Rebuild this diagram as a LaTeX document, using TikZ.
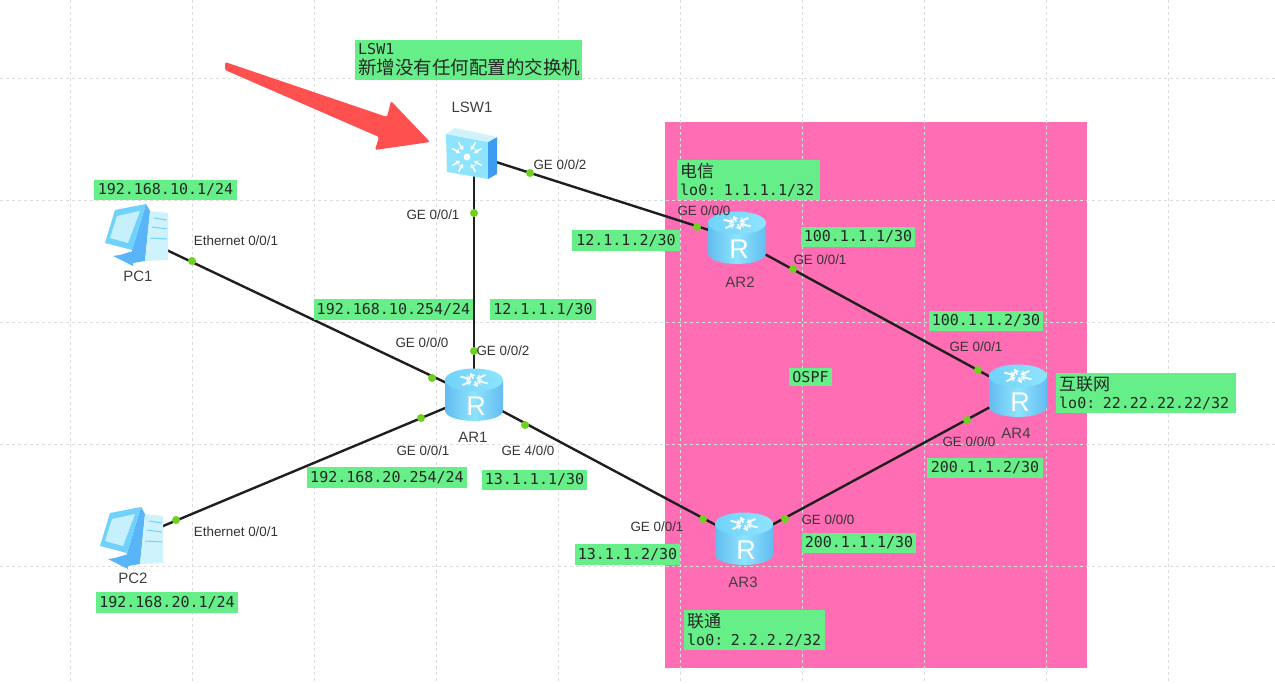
\documentclass[tikz,border=0pt]{standalone}
\usepackage{fontspec}
\setmainfont{Liberation Sans}
\setmonofont{DejaVu Sans Mono}
\newfontfamily\cjk{Noto Sans CJK SC}
\usetikzlibrary{arrows.meta}
\definecolor{zonepink}{HTML}{FF6EB4}
\definecolor{ipgreen}{HTML}{66EE88}
\definecolor{portgreen}{HTML}{70D020}
\definecolor{gridgray}{HTML}{DCDCDC}
\definecolor{arrowred}{HTML}{FF5050}
\definecolor{iconmid}{HTML}{8EE4FC}
\definecolor{iconedge}{HTML}{62BCF0}
\definecolor{icontop}{HTML}{70D2FA}
\definecolor{iconside}{HTML}{3F9BF0}
\definecolor{iconstrip}{HTML}{5AB4F8}
\definecolor{iconpale}{HTML}{CFF3FC}
\tikzset{
    link/.style={line width=2.4pt,draw=black!88},
    portdot/.style={circle,fill=portgreen,inner sep=0pt,minimum size=8pt},
    device/.style={inner sep=0pt,minimum width=40pt,minimum height=30pt},
    ipbox/.style={fill=ipgreen,inner sep=0pt,minimum height=20.5pt,text=black!85,font=\ttfamily\fontsize{15}{15}\selectfont},
    zonebox/.style={ipbox,align=left,anchor=north west,inner xsep=3pt,inner ysep=2pt,minimum height=39.5pt},
    devname/.style={inner sep=0pt,text=black!75,font=\fontsize{15}{15}\selectfont},
    portname/.style={inner sep=0pt,text=black!80,font=\fontsize{13.4}{14}\selectfont},
    router/.pic={
        \shade[left color=iconedge,right color=iconedge,middle color=iconmid] (-29,-16) -- (-29,14) .. controls (-29,28.6) and (29,28.6) .. (29,14) -- (29,-16) -- cycle;
        \shade[left color=icontop,right color=iconmid] (0,-16) ellipse [x radius=29,y radius=11.5];
        \foreach \a in {25,205,140,320} {
            \draw[white!95!cyan,line width=2pt,{Stealth[length=5pt,width=7pt]}-] (0,-16) +(\a:3 and 1.5) -- +(\a:15 and 8);
        }
        \foreach \a in {75,255} {
            \draw[white!95!cyan,line width=2pt,-{Stealth[length=5pt,width=7pt]}] (0,-16) +(\a:3 and 1.5) -- +(\a:14 and 7.5);
        }
        \node[inner sep=0pt,text=white,font=\fontsize{27}{27}\selectfont] (-R) at (2,10.5) {R};
    },
    lanswitch/.pic={
        \fill[iconmid] (-26,-21) -- (16,-13) -- (16,24) -- (-25,17) -- cycle;
        \fill[iconside] (16,-13) -- (25,-18) -- (25,19) -- (16,24) -- cycle;
        \fill[iconpale] (-26,-21) -- (-17,-27) -- (25,-18) -- (16,-13) -- cycle;
        \fill[white] (-5,2) circle (3.5);
        \foreach \a in {30,60,120,150,210,240,300,330} {
            \draw[white,line width=1.6pt,{Stealth[length=4pt,width=5.5pt]}-] (-5,2) +(\a:8) -- +(\a:17);
        }
    },
    desktop/.pic={
        \fill[iconstrip] (-17,19) -- (-4,15) -- (-4,30) -- (-24,20) -- cycle;
        \fill[iconstrip] (9,-32) -- (13,-25) -- (8,25) -- (-4,27) -- (-5,14) -- cycle;
        \fill[iconpale] (13,-25) -- (31,-23) -- (31,24) -- (8,25) -- cycle;
        \draw[icontop,line width=1pt] (17,-18) -- (30,-16) (15,-9) -- (30,-7) (13,2) -- (30,3);
        \fill[icontop] (-22,-26) -- (9,-32) -- (-5,14) -- (-32,7) -- cycle;
        \fill[iconpale!90!icontop] (-20,-20) -- (3,-25) -- (-9,7) -- (-27,2) -- cycle;
    },
}
\begin{document}
\begin{tikzpicture}[x=1pt,y=-1pt]
    \useasboundingbox (0,0) rectangle (1275,684);
    \fill[white] (0,0) rectangle (1275,684);
    \fill[zonepink] (665,122) rectangle (1087,668);
    % grid
    \foreach \gx in {70,192,...,1168} {
        \draw[gridgray,dashed,line width=0.8pt] (\gx,0) -- (\gx,684);
    }
    \foreach \gy in {78,200,...,566} {
        \draw[gridgray,dashed,line width=0.8pt] (0,\gy) -- (1275,\gy);
    }
    % red pointer
    \fill[arrowred,rounded corners=1.5pt] (225,62) -- (387,117) -- (391,101) -- (430,142) -- (375,150) -- (379,137) -- (225,70) -- cycle;
    % devices
    \node[device] (LSW1) at (474,155) {};
    \node[device] (PC1) at (137,236) {};
    \node[device] (PC2) at (132,539) {};
    \node[device] (AR1) at (474,396) {};
    \node[device] (AR2) at (737,239) {};
    \node[device] (AR3) at (744,540) {};
    \node[device] (AR4) at (1018,392) {};
    % links
    \draw[link] (LSW1) -- (AR1);
    \draw[link] (LSW1) -- (AR2);
    \draw[link] (PC1) -- (AR1);
    \draw[link] (PC2) -- (AR1);
    \draw[link] (AR1) -- (AR3);
    \draw[link] (AR2) -- (AR4);
    \draw[link] (AR3) -- (AR4);
    \pic[xshift=-2pt] (LSW1icon) at (LSW1) {lanswitch};
    \pic (PC1icon) at (PC1) {desktop};
    \pic (PC2icon) at (PC2) {desktop};
    \pic (AR1icon) at (AR1) {router};
    \pic (AR2icon) at (AR2) {router};
    \pic (AR3icon) at (AR3) {router};
    \pic (AR4icon) at (AR4) {router};
    % port dots
    \node[portdot] (dotLa) at (474,213) {};
    \node[portdot] (dotLb) at (530,173) {};
    \node[portdot] (dotPa) at (192,261) {};
    \node[portdot] (dotPb) at (176,520) {};
    \node[portdot] (dotAa) at (432,378) {};
    \node[portdot] (dotAb) at (474,351) {};
    \node[portdot] (dotAc) at (421,418) {};
    \node[portdot] (dotAd) at (525,425) {};
    \node[portdot] (dotBa) at (697,227) {};
    \node[portdot] (dotBb) at (793,269) {};
    \node[portdot] (dotCa) at (703,519) {};
    \node[portdot] (dotCb) at (785,519) {};
    \node[portdot] (dotDa) at (978,370) {};
    \node[portdot] (dotDb) at (967,420) {};
    % device names
    \node[devname] (nameL) at (472,107) {LSW1};
    \node[devname] (namePa) at (138,276) {PC1};
    \node[devname] (namePb) at (133,578) {PC2};
    \node[devname] (nameA) at (473,437) {AR1};
    \node[devname] (nameB) at (740,282) {AR2};
    \node[devname] (nameC) at (743,582) {AR3};
    \node[devname] (nameD) at (1016,433) {AR4};
    % port names
    \node[portname] (portLb) at (560,165) {GE 0/0/2};
    \node[portname] (portLa) at (433,215) {GE 0/0/1};
    \node[portname] (portPa) at (236,241) {Ethernet 0/0/1};
    \node[portname] (portPb) at (236,532) {Ethernet 0/0/1};
    \node[portname] (portAa) at (422,343) {GE 0/0/0};
    \node[portname] (portAb) at (503,351) {GE 0/0/2};
    \node[portname] (portAc) at (423,451) {GE 0/0/1};
    \node[portname] (portAd) at (528,451) {GE 4/0/0};
    \node[portname] (portBa) at (704,211) {GE 0/0/0};
    \node[portname] (portBb) at (820,260) {GE 0/0/1};
    \node[portname] (portDa) at (976,347) {GE 0/0/1};
    \node[portname] (portDb) at (969,442) {GE 0/0/0};
    \node[portname] (portCa) at (657,527) {GE 0/0/1};
    \node[portname] (portCb) at (828,520) {GE 0/0/0};
    % addresses
    \node[ipbox,minimum width=143pt] (ipPa) at (165.5,190) {192.168.10.1/24};
    \node[ipbox,minimum width=142pt] (ipPb) at (167,602.5) {192.168.20.1/24};
    \node[ipbox,minimum width=108pt] (ipBa) at (626,240.5) {12.1.1.2/30};
    \node[ipbox,minimum width=114pt] (ipBb) at (858,237) {100.1.1.1/30};
    \node[ipbox,minimum width=159pt] (ipAa) at (393.5,309.5) {192.168.10.254/24};
    \node[ipbox,minimum width=106pt] (ipAb) at (543,309.5) {12.1.1.1/30};
    \node[ipbox,minimum width=114pt] (ipDa) at (986,321) {100.1.1.2/30};
    \node[ipbox,minimum width=160pt] (ipAc) at (387,477.5) {192.168.20.254/24};
    \node[ipbox,minimum width=105pt] (ipAd) at (534.5,480) {13.1.1.1/30};
    \node[ipbox,minimum width=116pt] (ipDb) at (985,468) {200.1.1.2/30};
    \node[ipbox,minimum width=105pt] (ipCa) at (627.5,554.5) {13.1.1.2/30};
    \node[ipbox,minimum width=114pt] (ipCb) at (859,543) {200.1.1.1/30};
    \node[ipbox,minimum width=43pt,minimum height=18pt] (ospf) at (810.5,377) {OSPF};
    % zone notes
    \node[zonebox,text width=221pt] (noteL) at (355,40) {LSW1\\[3pt]{\cjk\fontsize{18.5}{20}\selectfont 新增没有任何配置的交换机}};
    \node[zonebox,text width=137pt] (noteB) at (677,160) {{\cjk\fontsize{17}{19}\selectfont 电信}\\[3pt]lo0: 1.1.1.1/32};
    \node[zonebox,text width=174pt] (noteD) at (1056,373) {{\cjk\fontsize{17}{19}\selectfont 互联网}\\[3pt]lo0: 22.22.22.22/32};
    \node[zonebox,text width=135pt] (noteC) at (684,610) {{\cjk\fontsize{17}{19}\selectfont 联通}\\[3pt]lo0: 2.2.2.2/32};
\end{tikzpicture}
\end{document}
